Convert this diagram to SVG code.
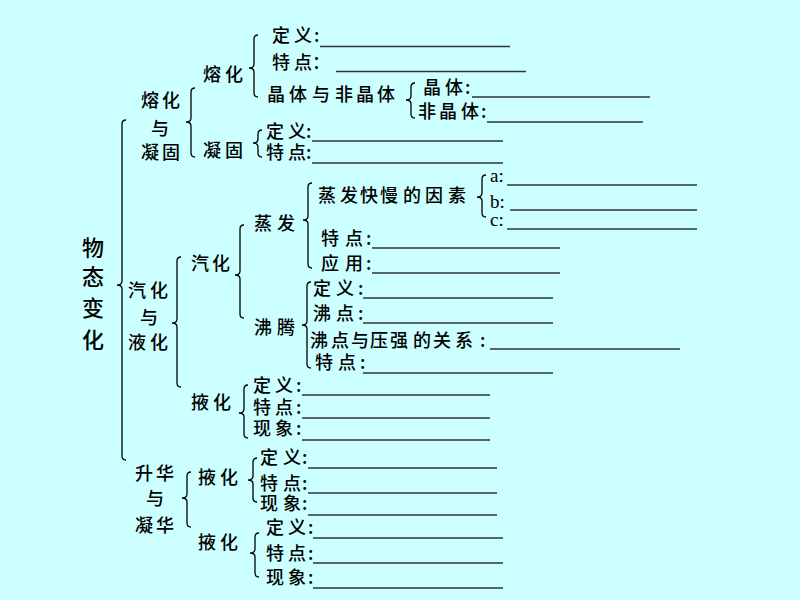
<svg xmlns="http://www.w3.org/2000/svg" width="800" height="600" viewBox="0 0 800 600">
<style>
.t{font-family:"Noto Sans CJK SC","Noto Sans CJK JP",sans-serif;font-size:18px;font-weight:500;fill:#000}
.big{font-size:22px}
.ser{font-family:"Liberation Serif",serif;font-size:19px;fill:#000}
.u{stroke:#333;stroke-width:1.3}
.b{fill:none;stroke:#000;stroke-width:1.3}
</style>
<rect width="800" height="600" fill="#CCFFFF"/>
<g id="connectors">
<path class="b" d="M126 120 Q122 120 122 124 L122 281 Q122 285 117 285 Q122 285 122 289 L122 456 Q122 460 126 460"/>
<path class="b" d="M195 88 Q191 88 191 92 L191 118 Q191 122 186 122 Q191 122 191 126 L191 153 Q191 157 195 157"/>
<path class="b" d="M258 35 Q254 35 254 39 L254 64 Q254 68 249 68 Q254 68 254 72 L254 93 Q254 97 258 97"/>
<path class="b" d="M415 83 Q411 83 411 87 L411 96 Q411 100 406 100 Q411 100 411 104 L411 114 Q411 118 415 118"/>
<path class="b" d="M262 130 Q258 130 258 134 L258 139 Q258 143 253 143 Q258 143 258 147 L258 153 Q258 157 262 157"/>
<path class="b" d="M181 257 Q177 257 177 261 L177 319 Q177 323 172 323 Q177 323 177 327 L177 383 Q177 387 181 387"/>
<path class="b" d="M244 225 Q240 225 240 229 L240 271 Q240 275 235 275 Q240 275 240 279 L240 314 Q240 318 244 318"/>
<path class="b" d="M312 183 Q308 183 308 187 L308 216 Q308 220 303 220 Q308 220 308 224 L308 264 Q308 268 312 268"/>
<path class="b" d="M486 175 Q482 175 482 179 L482 193 Q482 197 477 197 Q482 197 482 201 L482 213 Q482 217 486 217"/>
<path class="b" d="M311 282 Q307 282 307 286 L307 321 Q307 325 302 325 Q307 325 307 329 L307 364 Q307 368 311 368"/>
<path class="b" d="M248 385 Q244 385 244 389 L244 409 Q244 413 239 413 Q244 413 244 417 L244 434 Q244 438 248 438"/>
<path class="b" d="M191 472 Q187 472 187 476 L187 494 Q187 498 182 498 Q187 498 187 502 L187 523 Q187 527 191 527"/>
<path class="b" d="M257 458 Q253 458 253 462 L253 476 Q253 480 248 480 Q253 480 253 484 L253 498 Q253 502 257 502"/>
<path class="b" d="M259 533 Q255 533 255 537 L255 549 Q255 553 250 553 Q255 553 255 557 L255 573 Q255 577 259 577"/>
</g>
<g id="root"><text class="t big" x="82" y="256">物</text><text class="t big" x="82" y="285">态</text><text class="t big" x="82" y="316">变</text><text class="t big" x="82" y="348">化</text></g>
<g id="n-rongning">
<text class="t" x="141 162" y="107">熔化</text>
<text class="t" x="151" y="135">与</text>
<text class="t" x="141 162" y="159">凝固</text>
</g>
<g id="n-ronghua">
<text class="t" x="203 225" y="81">熔化</text>
<text class="t" x="272 294 314" y="42">定义:</text><line class="u" x1="320" y1="46.5" x2="510" y2="46.5"/>
<text class="t" x="272 294 312" y="69">特点：</text><line class="u" x1="336" y1="71.5" x2="526" y2="71.5"/>
<text class="t" x="267 289 312 335 356 377" y="101">晶体与非晶体</text>
<text class="t" x="423 445 465" y="94">晶体:</text><line class="u" x1="472" y1="97" x2="650" y2="97"/>
<text class="t" x="418 439 461 481" y="118">非晶体:</text><line class="u" x1="487" y1="122" x2="643" y2="122"/>
</g>
<g id="n-ninggu">
<text class="t" x="203 225" y="157">凝固</text>
<text class="t" x="266 288 306" y="138">定义:</text><line class="u" x1="312" y1="141" x2="503" y2="141"/>
<text class="t" x="266 288 306" y="159">特点:</text><line class="u" x1="312" y1="163" x2="503" y2="163"/>
</g>
<g id="n-qiye">
<text class="t" x="128 150" y="297">汽化</text>
<text class="t" x="140" y="324">与</text>
<text class="t" x="128 150" y="349">液化</text>
</g>
<g id="n-qihua">
<text class="t" x="191 212" y="270">汽化</text>
</g>
<g id="n-zhengfa">
<text class="t" x="254 277" y="230">蒸发</text>
<text class="t" x="318 340 360 380 403 425 448" y="202">蒸发快慢的因素</text>
<text class="ser" x="490" y="182">a:</text><line class="u" x1="507" y1="185" x2="697" y2="185"/>
<text class="ser" x="490" y="208">b:</text><line class="u" x1="510" y1="210" x2="697" y2="210"/>
<text class="ser" x="490" y="226">c:</text><line class="u" x1="507" y1="229" x2="697" y2="229"/>
<text class="t" x="321 345 366" y="245">特点:</text><line class="u" x1="372" y1="248" x2="560" y2="248"/>
<text class="t" x="321 345 366" y="270">应用:</text><line class="u" x1="372" y1="273" x2="560" y2="273"/>
</g>
<g id="n-feiteng">
<text class="t" x="254 277" y="334">沸腾</text>
<text class="t" x="313 336 358" y="295">定义:</text><line class="u" x1="363" y1="298" x2="553" y2="298"/>
<text class="t" x="313 336 358" y="320">沸点:</text><line class="u" x1="363" y1="323" x2="553" y2="323"/>
<text class="t" x="310 331 351 370 390 413 433 455 480" y="347">沸点与压强的关系:</text><line class="u" x1="490" y1="349" x2="680" y2="349"/>
<text class="t" x="315 338 360" y="369">特点:</text><line class="u" x1="363" y1="373" x2="553" y2="373"/>
</g>
<g id="n-yehua">
<text class="t" x="191 213" y="409">掖化</text>
<text class="t" x="253 275 296" y="392">定义:</text><line class="u" x1="302" y1="395" x2="490" y2="395"/>
<text class="t" x="253 275 296" y="414">特点:</text><line class="u" x1="302" y1="418" x2="490" y2="418"/>
<text class="t" x="253 275 296" y="435">现象:</text><line class="u" x1="302" y1="440" x2="490" y2="440"/>
</g>
<g id="n-shengning">
<text class="t" x="135 156" y="480">升华</text>
<text class="t" x="146" y="505">与</text>
<text class="t" x="135 156" y="532">凝华</text>
</g>
<g id="n-yehua-a">
<text class="t" x="198 220" y="484">掖化</text>
<text class="t" x="260 283 302" y="464">定义:</text><line class="u" x1="308" y1="468" x2="497" y2="468"/>
<text class="t" x="260 283 302" y="490">特点:</text><line class="u" x1="308" y1="493" x2="497" y2="493"/>
<text class="t" x="260 283 302" y="510">现象:</text><line class="u" x1="308" y1="515" x2="497" y2="515"/>
</g>
<g id="n-yehua-b">
<text class="t" x="198 220" y="549">掖化</text>
<text class="t" x="266 288 308" y="534">定义:</text><line class="u" x1="313" y1="538" x2="503" y2="538"/>
<text class="t" x="266 288 308" y="560">特点:</text><line class="u" x1="313" y1="563" x2="503" y2="563"/>
<text class="t" x="266 288 308" y="584">现象:</text><line class="u" x1="313" y1="588" x2="503" y2="588"/>
</g>
</svg>
